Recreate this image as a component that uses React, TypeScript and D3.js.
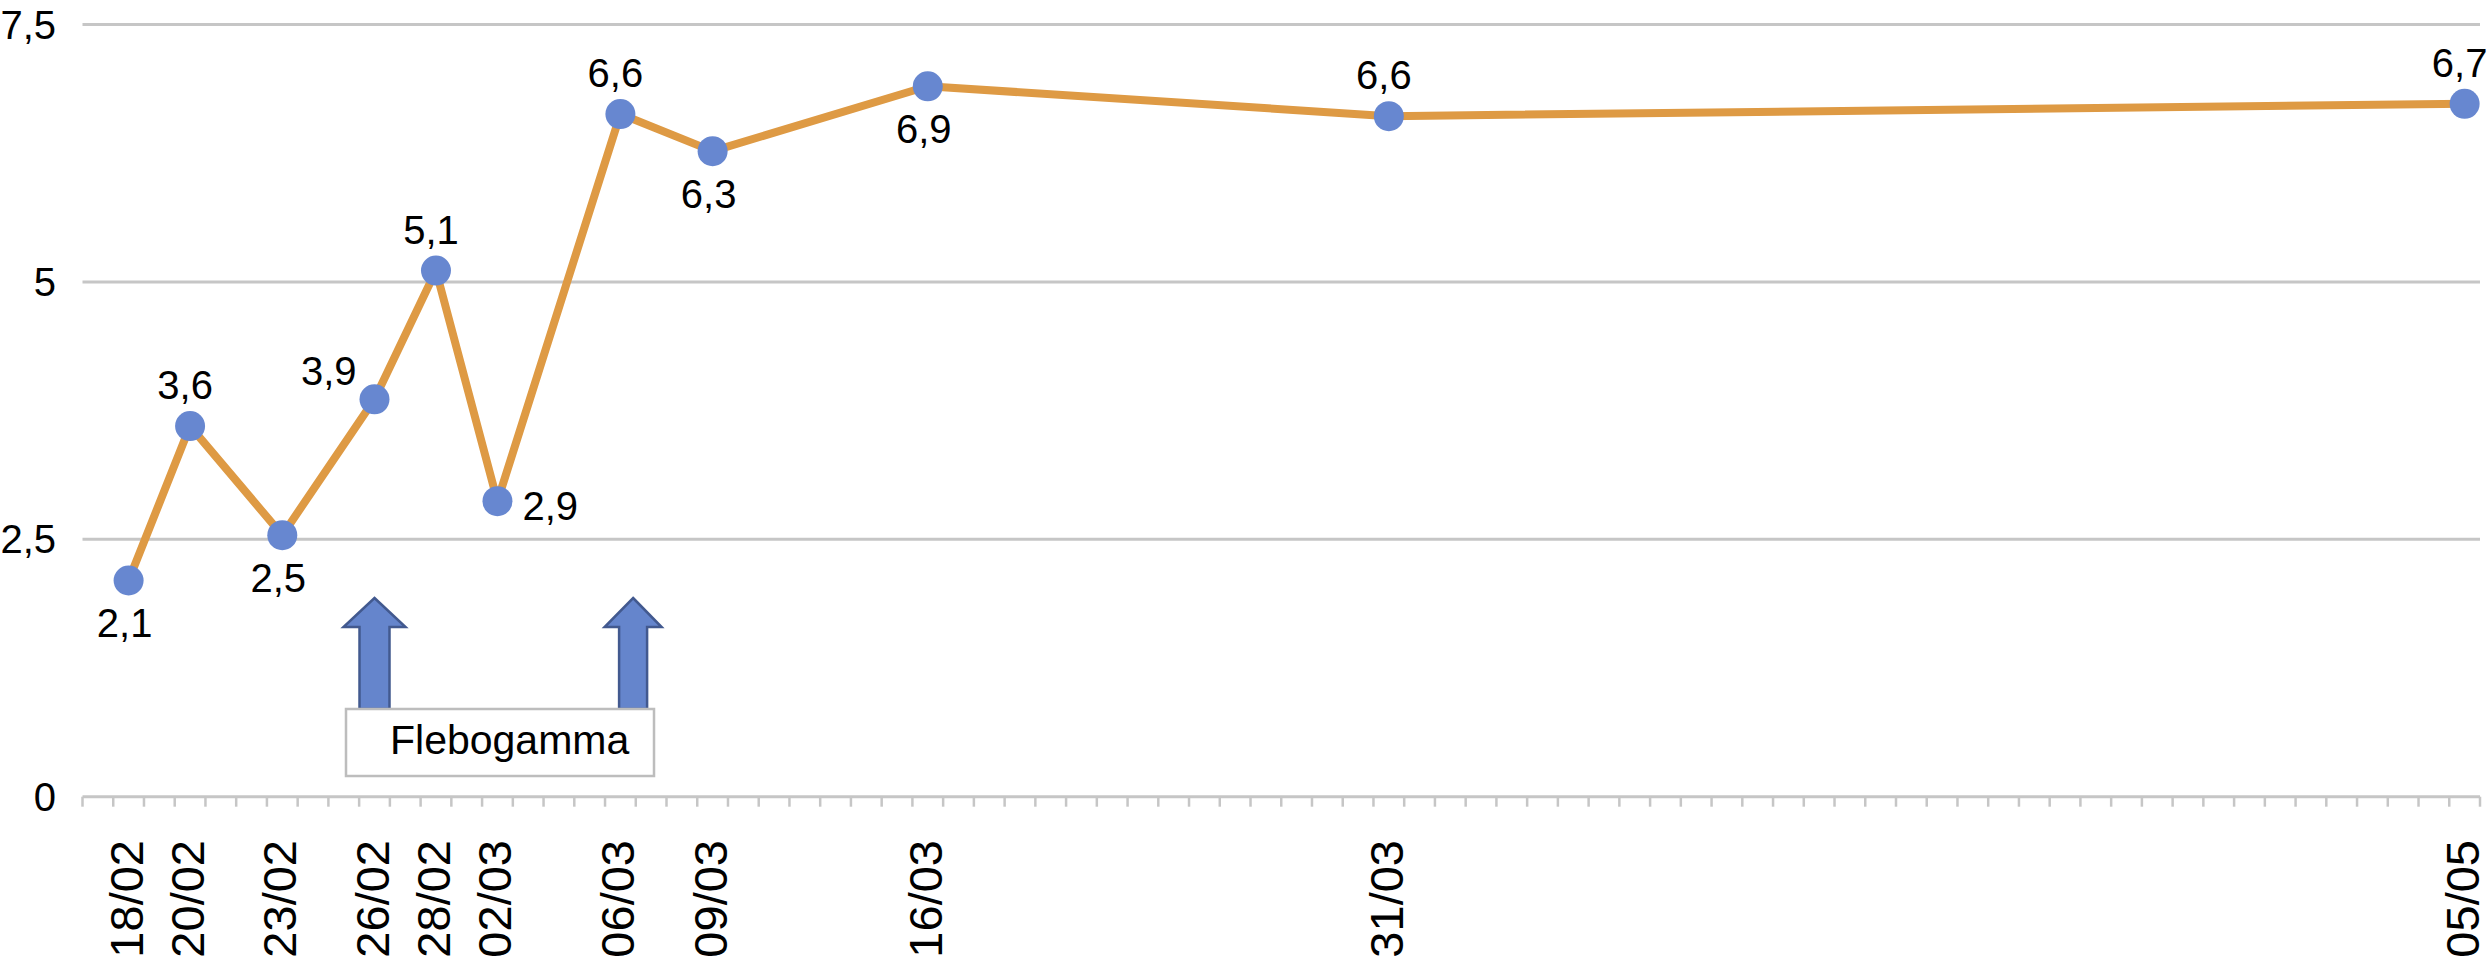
import React from "react";
import * as d3 from "d3";

// ---- data ----
const dateLabels = ["18/02", "20/02", "23/02", "26/02", "28/02", "02/03", "06/03", "09/03", "16/03", "31/03", "05/05"];
const values = [2.1, 3.6, 2.54, 3.86, 5.11, 2.87, 6.63, 6.27, 6.9, 6.61, 6.73];
const labelPlacement = ["below", "above", "below", "left", "above", "right", "above", "below", "below", "above", "above"];
const yTicks = [0, 2.5, 5, 7.5];
const axisStart = "17/02";
const axisEnd = "05/05";
const arrowDates = ["26/02", "06/03"];
const annotationText = "Flebogamma";
const YEAR = 2019;

const W = 2492;
const H = 960;
const left = 82.5;
const right = 2480;
const y0 = 796.7;
const yTop = 24.5;

const parse = (s: string) => {
  const [d, m] = s.split("/").map(Number);
  return new Date(Date.UTC(YEAR, m - 1, d));
};

const fmt = (v: number) => d3.format(".1f")(v).replace(".", ",");
const fmtTick = (v: number) => String(v).replace(".", ",");

export default function App() {
  const start = parse(axisStart);
  const end = d3.utcDay.offset(parse(axisEnd), 1);
  const x = d3.scaleUtc().domain([start, end]).range([left, right]);
  const y = d3.scaleLinear().domain([0, 7.5]).range([y0, yTop]);
  const center = (s: string) => x(d3.utcHour.offset(parse(s), 12));

  const dayTicks = d3.utcDay.range(start, d3.utcDay.offset(end, 1));
  const pts = dateLabels.map((d, i) => [center(d), y(values[i])] as [number, number]);
  const line = d3.line()(pts) || "";

  const font = "'Liberation Sans', Arial, Helvetica, sans-serif";
  const grid = "#C6C6C6";
  const lineColor = "#DE9A44";
  const dotColor = "#6787D0";

  const arrow = (cx: number, tipY: number, baseY: number, headW: number, shaftW: number, headH: number) => {
    const p = [
      [cx, tipY],
      [cx + headW / 2, tipY + headH],
      [cx + shaftW / 2, tipY + headH],
      [cx + shaftW / 2, baseY],
      [cx - shaftW / 2, baseY],
      [cx - shaftW / 2, tipY + headH],
      [cx - headW / 2, tipY + headH],
    ];
    return "M" + p.map((q) => q.join(",")).join("L") + "Z";
  };
  const arrowDx = [0, 12.7];

  return (
    <svg width={W} height={H} style={{ position: "absolute", left: 0, top: 0, background: "#fff" }} fontFamily={font}>
      <rect x={0} y={0} width={W} height={H} fill="#fff" />
      {/* gridlines */}
      {yTicks.map((t) => (
        <line key={t} x1={left} x2={right} y1={y(t)} y2={y(t)} stroke={grid} strokeWidth={3} />
      ))}
      {/* day ticks */}
      {dayTicks.map((d, i) => (
        <line key={i} x1={x(d)} x2={x(d)} y1={y0} y2={y0 + 10} stroke={grid} strokeWidth={2.5} />
      ))}
      {/* y tick labels */}
      {yTicks.map((t) => (
        <text key={t} x={56} y={y(t) + 14} textAnchor="end" fontSize={40} fill="#000">
          {fmtTick(t)}
        </text>
      ))}
      {/* x labels */}
      {dateLabels.map((d) => (
        <text key={d} transform={`translate(${center(d) + 14},840) rotate(-90)`} textAnchor="end" fontSize={47} fill="#000">
          {d}
        </text>
      ))}
      {/* annotation arrows */}
      {arrowDates.map((d, i) => (
        <path
          key={d}
          d={arrow(center(d) + arrowDx[i], 598, 709, i === 0 ? 62 : 57, i === 0 ? 30 : 28, 29)}
          fill="#6585CC"
          stroke="#42598F"
          strokeWidth={2.5}
        />
      ))}
      <rect x={346} y={709} width={308} height={67} fill="#fff" stroke="#BDBDBD" strokeWidth={2.5} />
      <text x={390} y={754} fontSize={41} fill="#000">
        {annotationText}
      </text>
      {/* series */}
      <path d={line} fill="none" stroke={lineColor} strokeWidth={8} strokeLinejoin="round" />
      {pts.map(([px, py], i) => (
        <circle key={i} cx={px} cy={py} r={15} fill={dotColor} />
      ))}
      {pts.map(([px, py], i) => {
        const pl = labelPlacement[i];
        let tx = px - 5;
        let ty = py - 27;
        let anchor = "middle";
        if (pl === "below") {
          tx = px - 4;
          ty = py + 57;
        } else if (pl === "left") {
          tx = px - 18;
          ty = py - 14;
          anchor = "end";
        } else if (pl === "right") {
          tx = px + 25;
          ty = py + 19;
          anchor = "start";
        }
        return (
          <text key={i} x={tx} y={ty} textAnchor={anchor} fontSize={40} fill="#000">
            {fmt(values[i])}
          </text>
        );
      })}
    </svg>
  );
}
